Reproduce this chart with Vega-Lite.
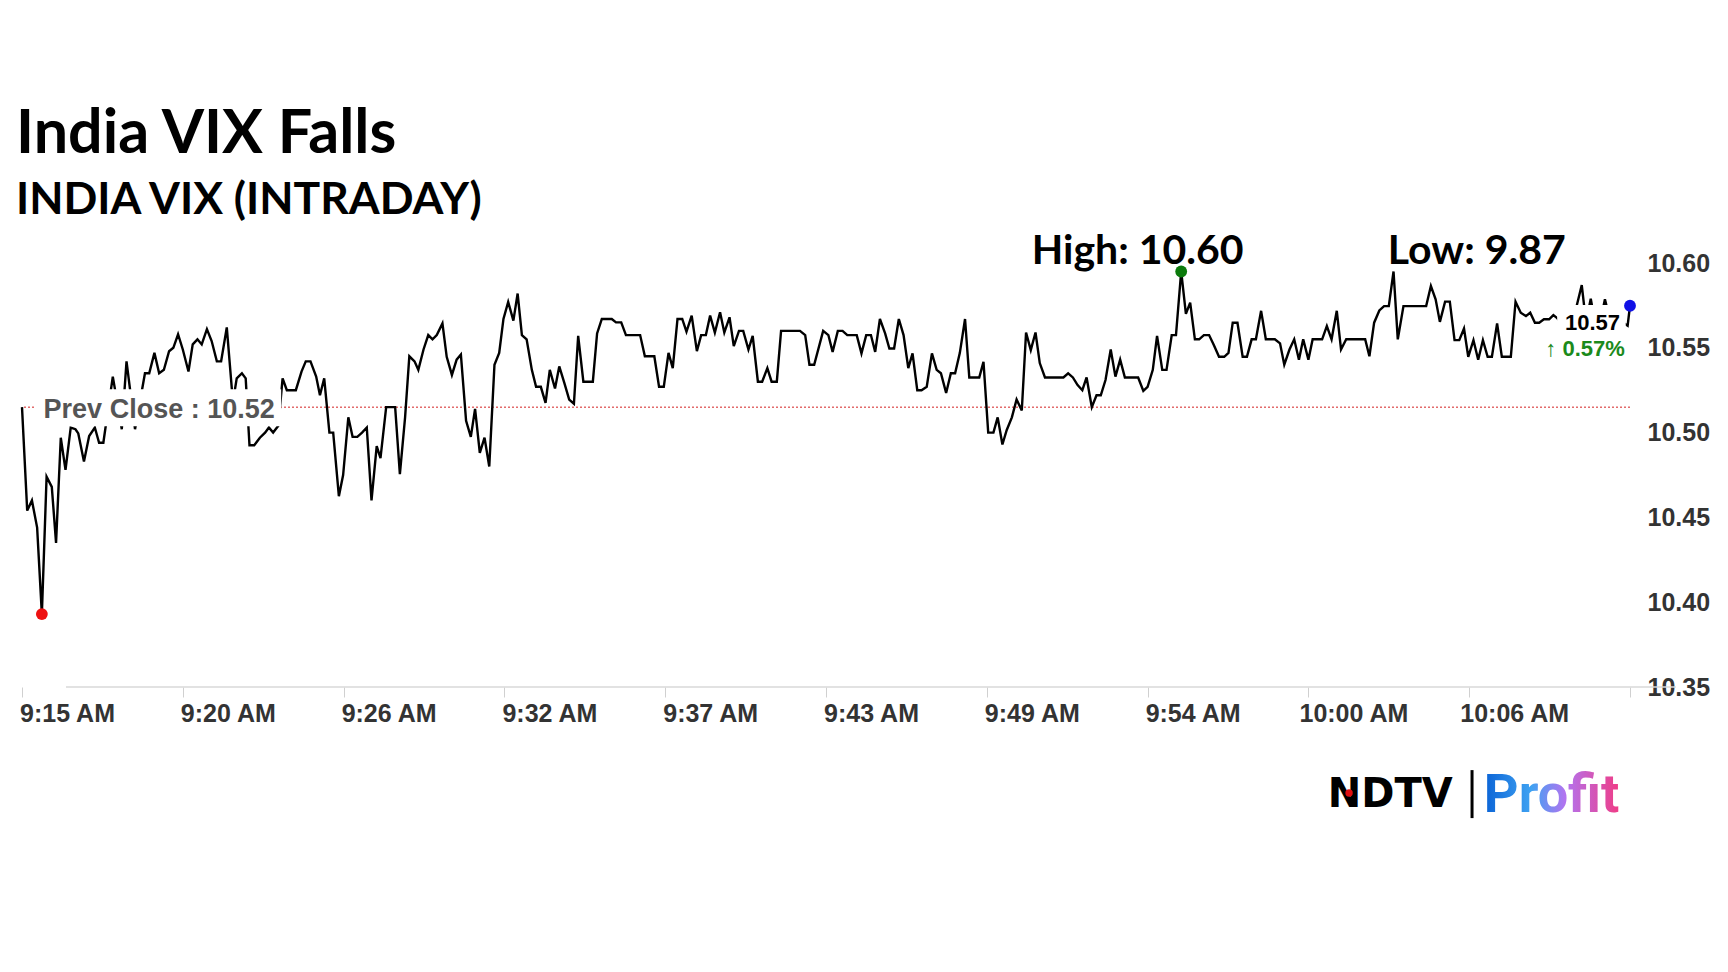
{
  "$schema": "https://vega.github.io/schema/vega-lite/v6.json",
  "width": 1608,
  "height": 424,
  "autosize": {"type": "none"},
  "padding": {"left": 22, "top": 263, "right": 98, "bottom": 285},
  "background": "white",
  "config": {"view": {"stroke": null}},
  "title": {
    "text": "India VIX Falls",
    "subtitle": "INDIA VIX (INTRADAY)",
    "anchor": "start",
    "frame": "group",
    "orient": "top",
    "font": "Lato",
    "fontSize": 61,
    "fontWeight": "bold",
    "color": "#000000",
    "subtitleFont": "Lato",
    "subtitleFontSize": 44.5,
    "subtitleFontWeight": "bold",
    "subtitleColor": "#000000",
    "subtitlePadding": 13,
    "offset": 8,
    "dx": -6
  },
  "data": {
    "format": {"parse": {"t": "date:'%H:%M:%S'"}},
    "values": [
      {"t":"09:15:00","v":10.515},{"t":"09:15:11","v":10.454},{"t":"09:15:21","v":10.460},{"t":"09:15:32","v":10.444},
      {"t":"09:15:42","v":10.393,"m":"low"},{"t":"09:15:52","v":10.474},{"t":"09:16:03","v":10.468},{"t":"09:16:12","v":10.435},
      {"t":"09:16:22","v":10.497},{"t":"09:16:32","v":10.478},{"t":"09:16:43","v":10.503},{"t":"09:16:53","v":10.502},
      {"t":"09:16:59","v":10.4995},{"t":"09:17:11","v":10.483},{"t":"09:17:22","v":10.498},{"t":"09:17:34","v":10.503},
      {"t":"09:17:43","v":10.494},{"t":"09:17:52","v":10.494},{"t":"09:18:12","v":10.533},{"t":"09:18:31","v":10.502},
      {"t":"09:18:41","v":10.542},{"t":"09:18:59","v":10.502},{"t":"09:19:20","v":10.535},{"t":"09:19:29","v":10.535},
      {"t":"09:19:40","v":10.547},{"t":"09:19:50","v":10.535},{"t":"09:20:00","v":10.537},{"t":"09:20:11","v":10.548},
      {"t":"09:20:20","v":10.550},{"t":"09:20:30","v":10.558},{"t":"09:20:40","v":10.549},{"t":"09:20:52","v":10.536},
      {"t":"09:21:01","v":10.552},{"t":"09:21:11","v":10.555},{"t":"09:21:20","v":10.552},{"t":"09:21:31","v":10.561},
      {"t":"09:21:41","v":10.554},{"t":"09:21:52","v":10.542},{"t":"09:22:01","v":10.542},{"t":"09:22:13","v":10.562},
      {"t":"09:22:26","v":10.518},{"t":"09:22:34","v":10.532},{"t":"09:22:45","v":10.535},{"t":"09:22:53","v":10.532},
      {"t":"09:23:01","v":10.4925},{"t":"09:23:11","v":10.4925},{"t":"09:23:23","v":10.497},{"t":"09:23:34","v":10.500},
      {"t":"09:23:42","v":10.503},{"t":"09:23:51","v":10.500},{"t":"09:24:02","v":10.504},{"t":"09:24:11","v":10.532},
      {"t":"09:24:20","v":10.525},{"t":"09:24:39","v":10.525},{"t":"09:24:51","v":10.536},{"t":"09:25:00","v":10.542},
      {"t":"09:25:10","v":10.542},{"t":"09:25:22","v":10.533},{"t":"09:25:30","v":10.522},{"t":"09:25:39","v":10.532},
      {"t":"09:25:50","v":10.500},{"t":"09:25:58","v":10.500},{"t":"09:26:10","v":10.4625},{"t":"09:26:19","v":10.475},
      {"t":"09:26:30","v":10.509},{"t":"09:26:39","v":10.4975},{"t":"09:26:49","v":10.4975},{"t":"09:26:59","v":10.500},
      {"t":"09:27:09","v":10.503},{"t":"09:27:19","v":10.460},{"t":"09:27:30","v":10.492},{"t":"09:27:38","v":10.485},
      {"t":"09:27:50","v":10.515},{"t":"09:28:09","v":10.515},{"t":"09:28:19","v":10.4755},{"t":"09:28:30","v":10.509},
      {"t":"09:28:39","v":10.545},{"t":"09:28:50","v":10.542},{"t":"09:28:58","v":10.537},{"t":"09:29:09","v":10.549},
      {"t":"09:29:19","v":10.5575},{"t":"09:29:28","v":10.555},{"t":"09:29:37","v":10.5575},{"t":"09:29:49","v":10.5644},
      {"t":"09:29:58","v":10.5447},{"t":"09:30:09","v":10.534},{"t":"09:30:19","v":10.543},{"t":"09:30:28","v":10.546},
      {"t":"09:30:39","v":10.507},{"t":"09:30:49","v":10.4975},{"t":"09:30:58","v":10.514},{"t":"09:31:08","v":10.488},
      {"t":"09:31:18","v":10.497},{"t":"09:31:28","v":10.480},{"t":"09:31:39","v":10.540},{"t":"09:31:49","v":10.547},
      {"t":"09:31:58","v":10.567},{"t":"09:32:08","v":10.577},{"t":"09:32:19","v":10.566},{"t":"09:32:28","v":10.582},
      {"t":"09:32:37","v":10.5575},{"t":"09:32:47","v":10.555},{"t":"09:32:58","v":10.537},{"t":"09:33:07","v":10.527},
      {"t":"09:33:17","v":10.527},{"t":"09:33:27","v":10.5175},{"t":"09:33:36","v":10.537},{"t":"09:33:47","v":10.526},
      {"t":"09:33:56","v":10.539},{"t":"09:34:07","v":10.529},{"t":"09:34:17","v":10.5195},{"t":"09:34:27","v":10.517},
      {"t":"09:34:36","v":10.557},{"t":"09:34:47","v":10.530},{"t":"09:35:07","v":10.530},{"t":"09:35:16","v":10.5585},
      {"t":"09:35:26","v":10.567},{"t":"09:35:47","v":10.567},{"t":"09:35:56","v":10.565},{"t":"09:36:07","v":10.565},
      {"t":"09:36:17","v":10.5575},{"t":"09:36:47","v":10.5575},{"t":"09:36:57","v":10.545},{"t":"09:37:17","v":10.545},
      {"t":"09:37:27","v":10.527},{"t":"09:37:37","v":10.527},{"t":"09:37:47","v":10.547},{"t":"09:37:56","v":10.538},
      {"t":"09:38:06","v":10.567},{"t":"09:38:16","v":10.567},{"t":"09:38:25","v":10.5595},{"t":"09:38:36","v":10.569},
      {"t":"09:38:47","v":10.548},{"t":"09:38:56","v":10.5575},{"t":"09:39:06","v":10.5575},{"t":"09:39:15","v":10.569},
      {"t":"09:39:25","v":10.559},{"t":"09:39:36","v":10.571},{"t":"09:39:45","v":10.559},{"t":"09:39:56","v":10.568},
      {"t":"09:40:05","v":10.551},{"t":"09:40:16","v":10.560},{"t":"09:40:25","v":10.560},{"t":"09:40:36","v":10.549},
      {"t":"09:40:45","v":10.557},{"t":"09:40:56","v":10.530},{"t":"09:41:05","v":10.530},{"t":"09:41:16","v":10.538},
      {"t":"09:41:25","v":10.530},{"t":"09:41:36","v":10.530},{"t":"09:41:45","v":10.560},{"t":"09:42:25","v":10.560},
      {"t":"09:42:36","v":10.5575},{"t":"09:42:45","v":10.540},{"t":"09:42:55","v":10.540},{"t":"09:43:14","v":10.560},
      {"t":"09:43:25","v":10.5575},{"t":"09:43:34","v":10.5476},{"t":"09:43:45","v":10.560},{"t":"09:43:55","v":10.560},
      {"t":"09:44:05","v":10.5575},{"t":"09:44:25","v":10.5575},{"t":"09:44:35","v":10.5467},{"t":"09:44:45","v":10.5575},
      {"t":"09:44:55","v":10.5575},{"t":"09:45:04","v":10.5476},{"t":"09:45:14","v":10.567},{"t":"09:45:25","v":10.5585},
      {"t":"09:45:34","v":10.5496},{"t":"09:45:44","v":10.5496},{"t":"09:45:54","v":10.567},{"t":"09:46:04","v":10.5575},
      {"t":"09:46:14","v":10.538},{"t":"09:46:23","v":10.5467},{"t":"09:46:33","v":10.525},{"t":"09:46:42","v":10.525},
      {"t":"09:46:53","v":10.527},{"t":"09:47:04","v":10.5467},{"t":"09:47:14","v":10.537},{"t":"09:47:23","v":10.535},
      {"t":"09:47:34","v":10.5234},{"t":"09:47:44","v":10.535},{"t":"09:47:53","v":10.535},{"t":"09:48:03","v":10.547},
      {"t":"09:48:14","v":10.567},{"t":"09:48:23","v":10.5325},{"t":"09:48:44","v":10.5325},{"t":"09:48:53","v":10.5417},
      {"t":"09:49:03","v":10.500},{"t":"09:49:14","v":10.500},{"t":"09:49:23","v":10.509},{"t":"09:49:33","v":10.493},
      {"t":"09:49:42","v":10.5014},{"t":"09:49:53","v":10.509},{"t":"09:50:03","v":10.5195},{"t":"09:50:14","v":10.513},
      {"t":"09:50:23","v":10.559},{"t":"09:50:33","v":10.5486},{"t":"09:50:43","v":10.559},{"t":"09:50:52","v":10.541},
      {"t":"09:51:03","v":10.5325},{"t":"09:51:42","v":10.5325},{"t":"09:51:52","v":10.535},{"t":"09:52:02","v":10.5325},
      {"t":"09:52:12","v":10.528},{"t":"09:52:22","v":10.525},{"t":"09:52:31","v":10.5325},{"t":"09:52:42","v":10.515},
      {"t":"09:52:52","v":10.522},{"t":"09:53:01","v":10.522},{"t":"09:53:11","v":10.531},{"t":"09:53:22","v":10.549},
      {"t":"09:53:32","v":10.533},{"t":"09:53:42","v":10.543},{"t":"09:53:52","v":10.5325},{"t":"09:54:20","v":10.5325},
      {"t":"09:54:31","v":10.5246},{"t":"09:54:40","v":10.527},{"t":"09:54:51","v":10.537},{"t":"09:55:00","v":10.557},
      {"t":"09:55:11","v":10.537},{"t":"09:55:20","v":10.537},{"t":"09:55:31","v":10.5575},{"t":"09:55:40","v":10.5575},
      {"t":"09:55:51","v":10.595,"m":"high"},{"t":"09:56:01","v":10.570},{"t":"09:56:10","v":10.5766},{"t":"09:56:20","v":10.555},
      {"t":"09:56:29","v":10.555},{"t":"09:56:39","v":10.5575},{"t":"09:56:50","v":10.5575},{"t":"09:57:00","v":10.5516},
      {"t":"09:57:11","v":10.5447},{"t":"09:57:22","v":10.5447},{"t":"09:57:31","v":10.547},{"t":"09:57:40","v":10.5648},
      {"t":"09:57:50","v":10.5648},{"t":"09:58:01","v":10.5447},{"t":"09:58:10","v":10.5447},{"t":"09:58:20","v":10.555},
      {"t":"09:58:29","v":10.555},{"t":"09:58:40","v":10.5718},{"t":"09:58:50","v":10.555},{"t":"09:59:09","v":10.555},
      {"t":"09:59:20","v":10.5526},{"t":"09:59:29","v":10.540},{"t":"09:59:40","v":10.549},{"t":"09:59:50","v":10.555},
      {"t":"10:00:00","v":10.543},{"t":"10:00:09","v":10.555},{"t":"10:00:20","v":10.543},{"t":"10:00:29","v":10.555},
      {"t":"10:00:49","v":10.555},{"t":"10:00:59","v":10.5628},{"t":"10:01:09","v":10.555},{"t":"10:01:20","v":10.5718},
      {"t":"10:01:29","v":10.549},{"t":"10:01:40","v":10.555},{"t":"10:02:20","v":10.555},{"t":"10:02:29","v":10.545},
      {"t":"10:02:39","v":10.5648},{"t":"10:02:50","v":10.572},{"t":"10:03:00","v":10.5746},{"t":"10:03:10","v":10.5746},
      {"t":"10:03:20","v":10.595},{"t":"10:03:29","v":10.555},{"t":"10:03:41","v":10.5746},{"t":"10:04:29","v":10.5746},
      {"t":"10:04:39","v":10.5864},{"t":"10:04:49","v":10.5786},{"t":"10:04:58","v":10.5653},{"t":"10:05:09","v":10.5772},
      {"t":"10:05:19","v":10.5772},{"t":"10:05:29","v":10.5545},{"t":"10:05:39","v":10.5545},{"t":"10:05:49","v":10.5614},
      {"t":"10:05:58","v":10.5447},{"t":"10:06:09","v":10.5545},{"t":"10:06:19","v":10.543},{"t":"10:06:29","v":10.5545},
      {"t":"10:06:39","v":10.5447},{"t":"10:06:48","v":10.5447},{"t":"10:06:59","v":10.5644},{"t":"10:07:09","v":10.5447},
      {"t":"10:07:28","v":10.5447},{"t":"10:07:38","v":10.5772},{"t":"10:07:49","v":10.5707},{"t":"10:08:00","v":10.5687},
      {"t":"10:08:09","v":10.5707},{"t":"10:08:19","v":10.5648},{"t":"10:08:28","v":10.5648},{"t":"10:08:38","v":10.5668},
      {"t":"10:08:49","v":10.5668},{"t":"10:08:58","v":10.5693},{"t":"10:09:04","v":10.568},{"t":"10:09:14","v":10.565},
      {"t":"10:09:27","v":10.568},{"t":"10:09:37","v":10.563},{"t":"10:09:58","v":10.587},{"t":"10:10:07","v":10.565},
      {"t":"10:10:17","v":10.579},{"t":"10:10:26","v":10.565},{"t":"10:10:37","v":10.565},{"t":"10:10:47","v":10.5786},
      {"t":"10:10:58","v":10.566},{"t":"10:11:08","v":10.565},{"t":"10:11:19","v":10.566},{"t":"10:11:35","v":10.563},
      {"t":"10:11:40","v":10.5748,"m":"last"}
    ]
  },
  "layer": [
    {
      "data": {"values": [{}]},
      "mark": {"type": "rule", "color": "#d9d9d9", "strokeWidth": 1.5},
      "encoding": {
        "x": {"datum": {"year": 1900, "month": 1, "date": 1, "hours": 9, "minutes": 16, "seconds": 33}, "type": "temporal"},
        "x2": {"datum": {"year": 1900, "month": 1, "date": 1, "hours": 10, "minutes": 13, "seconds": 17}},
        "y": {"datum": 10.35, "type": "quantitative"}
      }
    },
    {
      "data": {"values": [{}]},
      "mark": {"type": "rule", "color": "#d42020", "strokeWidth": 1, "strokeDash": [2, 2]},
      "encoding": {
        "y": {"datum": 10.515, "type": "quantitative"}
      }
    },
    {
      "mark": {"type": "line", "color": "#000000", "strokeWidth": 2.4},
      "encoding": {
        "x": {
          "field": "t",
          "type": "temporal",
          "scale": {"domain": [{"year": 1900, "month": 1, "date": 1, "hours": 9, "minutes": 15}, {"year": 1900, "month": 1, "date": 1, "hours": 10, "minutes": 11, "seconds": 40}]},
          "axis": {
            "title": null,
            "orient": "bottom",
            "domain": false,
            "grid": false,
            "ticks": true,
            "tickColor": "#d0d0d0",
            "tickSize": 10,
            "tickWidth": 1,
            "values": [
              {"year": 1900, "month": 1, "date": 1, "hours": 9, "minutes": 15},
              {"year": 1900, "month": 1, "date": 1, "hours": 9, "minutes": 20, "seconds": 40},
              {"year": 1900, "month": 1, "date": 1, "hours": 9, "minutes": 26, "seconds": 20},
              {"year": 1900, "month": 1, "date": 1, "hours": 9, "minutes": 32},
              {"year": 1900, "month": 1, "date": 1, "hours": 9, "minutes": 37, "seconds": 40},
              {"year": 1900, "month": 1, "date": 1, "hours": 9, "minutes": 43, "seconds": 20},
              {"year": 1900, "month": 1, "date": 1, "hours": 9, "minutes": 49},
              {"year": 1900, "month": 1, "date": 1, "hours": 9, "minutes": 54, "seconds": 40},
              {"year": 1900, "month": 1, "date": 1, "hours": 10, "minutes": 0, "seconds": 20},
              {"year": 1900, "month": 1, "date": 1, "hours": 10, "minutes": 6},
              {"year": 1900, "month": 1, "date": 1, "hours": 10, "minutes": 11, "seconds": 40}
            ],
            "format": "%-I:%M %p",
            "labelExpr": "hours(datum.value) == 10 && minutes(datum.value) == 11 ? '' : datum.label",
            "labelFont": "Liberation Sans",
            "labelFontWeight": "bold",
            "labelFontSize": 25,
            "labelColor": "#333333",
            "labelAlign": "center",
            "labelOffset": 45,
            "labelPadding": 4,
            "labelFlush": false,
            "labelOverlap": false
          }
        },
        "y": {
          "field": "v",
          "type": "quantitative",
          "scale": {"domain": [10.35, 10.6], "zero": false, "nice": false},
          "axis": {
            "title": null,
            "orient": "right",
            "domain": false,
            "grid": false,
            "ticks": false,
            "values": [10.35, 10.4, 10.45, 10.5, 10.55, 10.6],
            "format": ".2f",
            "labelFont": "Liberation Sans",
            "labelFontWeight": "bold",
            "labelFontSize": 25,
            "labelColor": "#333333",
            "labelPadding": 17,
            "labelFlush": false,
            "labelOverlap": false
          }
        }
      }
    },
    {
      "data": {"values": [{}]},
      "mark": {"type": "rect", "fill": "white"},
      "encoding": {
        "x": {"datum": {"year": 1900, "month": 1, "date": 1, "hours": 9, "minutes": 15, "seconds": 28}, "type": "temporal"},
        "x2": {"datum": {"year": 1900, "month": 1, "date": 1, "hours": 9, "minutes": 24, "seconds": 8}},
        "y": {"datum": 10.5256, "type": "quantitative"},
        "y2": {"datum": 10.5038}
      }
    },
    {
      "data": {"values": [{}]},
      "mark": {"type": "rect", "fill": "white"},
      "encoding": {
        "x": {"datum": {"year": 1900, "month": 1, "date": 1, "hours": 10, "minutes": 9, "seconds": 6}, "type": "temporal"},
        "x2": {"datum": {"year": 1900, "month": 1, "date": 1, "hours": 10, "minutes": 11, "seconds": 31}},
        "y": {"datum": 10.5752, "type": "quantitative"},
        "y2": {"datum": 10.5416}
      }
    },
    {
      "data": {"values": [{}]},
      "mark": {"type": "text", "text": "Prev Close : 10.52", "font": "Liberation Sans", "fontWeight": "bold", "fontSize": 27, "color": "#555555", "align": "center", "baseline": "middle", "dy": 3},
      "encoding": {
        "x": {"datum": {"year": 1900, "month": 1, "date": 1, "hours": 9, "minutes": 19, "seconds": 50}, "type": "temporal"},
        "y": {"datum": 10.515, "type": "quantitative"}
      }
    },
    {
      "data": {"values": [{}]},
      "mark": {"type": "text", "text": "10.57", "font": "Liberation Sans", "fontWeight": "bold", "fontSize": 22, "color": "#000000", "align": "right", "baseline": "middle"},
      "encoding": {
        "x": {"datum": {"year": 1900, "month": 1, "date": 1, "hours": 10, "minutes": 11, "seconds": 19}, "type": "temporal"},
        "y": {"datum": 10.5649, "type": "quantitative"}
      }
    },
    {
      "data": {"values": [{}]},
      "mark": {"type": "text", "text": "↑ 0.57%", "font": "Liberation Sans", "fontWeight": "bold", "fontSize": 22, "color": "#1b8a1b", "align": "right", "baseline": "middle"},
      "encoding": {
        "x": {"datum": {"year": 1900, "month": 1, "date": 1, "hours": 10, "minutes": 11, "seconds": 29}, "type": "temporal"},
        "y": {"datum": 10.5495, "type": "quantitative"}
      }
    },
    {
      "data": {"values": [{}]},
      "mark": {"type": "text", "text": "High: 10.60", "font": "Lato", "fontWeight": "bold", "fontSize": 41, "color": "#000000", "align": "left", "baseline": "alphabetic", "dy": 1},
      "encoding": {
        "x": {"datum": {"year": 1900, "month": 1, "date": 1, "hours": 9, "minutes": 50, "seconds": 35}, "type": "temporal"},
        "y": {"datum": 10.6, "type": "quantitative"}
      }
    },
    {
      "data": {"values": [{}]},
      "mark": {"type": "text", "text": "Low: 9.87", "font": "Lato", "fontWeight": "bold", "fontSize": 41, "color": "#000000", "align": "left", "baseline": "alphabetic", "dy": 1},
      "encoding": {
        "x": {"datum": {"year": 1900, "month": 1, "date": 1, "hours": 10, "minutes": 3, "seconds": 8}, "type": "temporal"},
        "y": {"datum": 10.6, "type": "quantitative"}
      }
    },
    {
      "transform": [{"filter": "isValid(datum.m)"}],
      "mark": {"type": "point", "filled": true, "size": 140, "opacity": 1},
      "encoding": {
        "x": {"field": "t", "type": "temporal"},
        "y": {"field": "v", "type": "quantitative"},
        "color": {"field": "m", "type": "nominal", "scale": {"domain": ["low", "high", "last"], "range": ["#ee1111", "#0b7a0b", "#1010e6"]}, "legend": null}
      }
    },
    {
      "data": {"values": [{}]},
      "mark": {"type": "text", "text": "NDTV", "font": "DejaVu Sans", "fontWeight": "bold", "fontSize": 40, "color": "#000000", "align": "left", "baseline": "alphabetic"},
      "encoding": {
        "x": {"datum": {"year": 1900, "month": 1, "date": 1, "hours": 10, "minutes": 1, "seconds": 1}, "type": "temporal"},
        "y": {"datum": 10.2793, "type": "quantitative"}
      }
    },
    {
      "data": {"values": [{}]},
      "mark": {"type": "point", "filled": true, "size": 55, "color": "#e01010", "opacity": 1},
      "encoding": {
        "x": {"datum": {"year": 1900, "month": 1, "date": 1, "hours": 10, "minutes": 1, "seconds": 46}, "type": "temporal"},
        "y": {"datum": 10.2875, "type": "quantitative"}
      }
    },
    {
      "data": {"values": [{}]},
      "mark": {"type": "rule", "color": "#000000", "strokeWidth": 3},
      "encoding": {
        "x": {"datum": {"year": 1900, "month": 1, "date": 1, "hours": 10, "minutes": 6, "seconds": 6}, "type": "temporal"},
        "y": {"datum": 10.301, "type": "quantitative"},
        "y2": {"datum": 10.2727}
      }
    },
    {
      "data": {"values": [{}]},
      "mark": {
        "type": "text",
        "text": "Profit",
        "font": "Roboto",
        "fontWeight": "bold",
        "fontSize": 54,
        "align": "left",
        "baseline": "alphabetic",
        "fill": {
          "gradient": "linear",
          "x1": 0, "y1": 0, "x2": 1, "y2": 0,
          "stops": [
            {"offset": 0, "color": "#0a63d6"},
            {"offset": 0.35, "color": "#3fa2f2"},
            {"offset": 0.6, "color": "#b274f0"},
            {"offset": 1, "color": "#f03c86"}
          ]
        }
      },
      "encoding": {
        "x": {"datum": {"year": 1900, "month": 1, "date": 1, "hours": 10, "minutes": 6, "seconds": 31}, "type": "temporal"},
        "y": {"datum": 10.2764, "type": "quantitative"}
      }
    }
  ]
}
